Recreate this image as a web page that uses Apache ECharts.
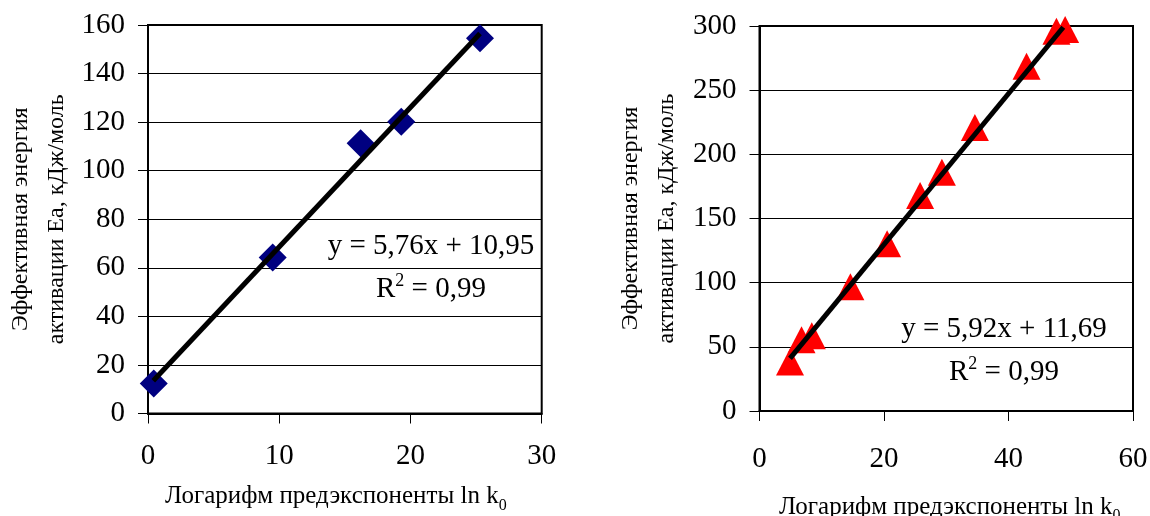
<!DOCTYPE html>
<html>
<head>
<meta charset="utf-8">
<title>Ea vs ln k0</title>
<script type="text/javascript" src="https://cdn.jsdelivr.net/npm/echarts@6/dist/echarts.min.js"></script>
<style>
	html, body {margin:0; padding:0; background:#fff;}
	#main {width:1150px; height:516px;}
</style>
</head>
<body>
<div id="main"></div>
<script type="text/javascript">
	// левый график (ромбы)
	var leftX = [0.44, 9.5, 16.2, 19.3, 25.3];
	var leftY = [12.4, 64.2, 111.3, 120.2, 154.5];
	var leftTrendX = [0.4, 25.3];
	var leftTrendY = [13.5, 156.5];
	var leftEq = 'y = 5,76x + 10,95';
	var leftR2 = '0,99';

	// правый график (треугольники)
	var rightX = [4.9, 6.75, 8.4, 14.6, 20.5, 25.8, 29.3, 34.6, 42.9, 47.7, 49.1];
	var rightY = [38.2, 55.6, 58.6, 96.9, 130.4, 167.9, 186, 220.9, 268.7, 295.9, 297.3];
	var rightTrendX = [4.9, 48.8];
	var rightTrendY = [41, 299];
	var rightEq = 'y = 5,92x + 11,69';
	var rightR2 = '0,99';

	var xTitle = 'Логарифм предэкспоненты ln k';
	var yTitle = ['Эффективная энергия', 'активации Ea, кДж/моль'];

	var font = '"Liberation Serif", "Times New Roman", serif';

	function pairs(xs, ys){
		var out = [];
		for (var i = 0; i < xs.length; i++) out.push([xs[i], ys[i]]);
		return out;
	}

	function xAxisOf(idx, max, step, nameGap, labelMargin, namePad){
		return {
			gridIndex: idx, type: 'value', min: 0, max: max, interval: step,
			name: '{m|' + xTitle + '}{s|0}',
			nameLocation: 'middle', nameGap: nameGap,
			nameTextStyle: {
				padding: namePad,
				rich: {
					m: {fontFamily: font, fontSize: 25, lineHeight: 34, color: '#000'},
					s: {fontFamily: font, fontSize: 16, lineHeight: 16, verticalAlign: 'bottom', color: '#000'}
				}
			},
			axisLine: {show: true, onZero: false, lineStyle: {color: '#000', width: 2}},
			axisTick: {show: true, inside: false, length: 10, lineStyle: {color: '#000', width: 1}},
			axisLabel: {margin: labelMargin, color: '#000', fontFamily: font, fontSize: 29},
			splitLine: {show: false}
		};
	}

	function yAxisOf(idx, max, step, nameGap){
		return {
			gridIndex: idx, type: 'value', min: 0, max: max, interval: step,
			name: yTitle.join('\n'),
			nameLocation: 'middle', nameGap: nameGap, nameRotate: 90,
			nameTextStyle: {color: '#000', fontFamily: font, fontSize: 24, lineHeight: 36},
			axisLine: {show: true, onZero: false, lineStyle: {color: '#000', width: 2}},
			axisTick: {show: true, inside: false, length: 10, lineStyle: {color: '#000', width: 1}},
			axisLabel: {margin: 23, color: '#000', fontFamily: font, fontSize: 29},
			splitLine: {show: true, lineStyle: {color: '#000', width: 1}}
		};
	}

	function eqText(x, y, eq, r2){
		return [
			{
				type: 'text', x: x, y: y, z: 100,
				style: {text: eq, fill: '#000', font: '29px ' + font, align: 'center', verticalAlign: 'middle'}
			},
			{
				type: 'text', x: x, y: y + 43, z: 100,
				style: {
					text: '{a|R}{b|2}{a| = ' + r2 + '}',
					align: 'center', verticalAlign: 'middle',
					rich: {
						a: {fontFamily: font, fontSize: 29, lineHeight: 33, fill: '#000'},
						b: {fontFamily: font, fontSize: 18, lineHeight: 18, verticalAlign: 'top', fill: '#000'}
					}
				}
			}
		];
	}

	var option = {
		backgroundColor: '#fff',
		animation: false,
		grid: [
			{left: 148, right: 608.3, top: 25, bottom: 102.5, show: true, borderColor: '#000', borderWidth: 2,
				containLabel: false, outerBoundsMode: 'none'},
			{left: 759.5, right: 17, top: 26, bottom: 105, show: true, borderColor: '#000', borderWidth: 2,
				containLabel: false, outerBoundsMode: 'none'}
		],
		xAxis: [
			xAxisOf(0, 30, 10, 66, 28, [0, 18, 0, 0]),
			xAxisOf(1, 60, 20, 79, 34, [0, 0, 0, 7])
		],
		yAxis: [
			yAxisOf(0, 160, 20, 73),
			yAxisOf(1, 300, 50, 75)
		],
		series: [
			{
				type: 'scatter', xAxisIndex: 0, yAxisIndex: 0,
				symbol: 'diamond', symbolSize: 28,
				itemStyle: {color: '#000080', opacity: 1},
				data: pairs(leftX, leftY), z: 2
			},
			{
				type: 'line', xAxisIndex: 0, yAxisIndex: 0,
				symbol: 'none', lineStyle: {color: '#000', width: 5},
				data: pairs(leftTrendX, leftTrendY), z: 3
			},
			{
				type: 'scatter', xAxisIndex: 1, yAxisIndex: 1,
				symbol: 'triangle', symbolSize: [28, 27],
				itemStyle: {color: '#ff0000', opacity: 1},
				data: pairs(rightX, rightY), z: 2
			},
			{
				type: 'line', xAxisIndex: 1, yAxisIndex: 1,
				symbol: 'none', lineStyle: {color: '#000', width: 5},
				data: pairs(rightTrendX, rightTrendY), z: 3
			}
		],
		graphic: eqText(431, 246, leftEq, leftR2).concat(eqText(1004, 329, rightEq, rightR2))
	};

	var myChart = echarts.init(document.getElementById('main'));
	myChart.setOption(option);
</script>
</body>
</html>
